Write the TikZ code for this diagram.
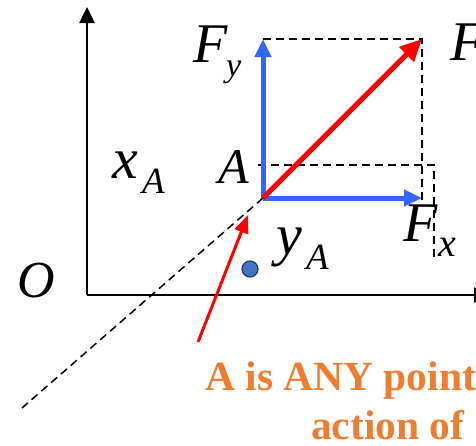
\documentclass[tikz,border=0pt]{standalone}
\usepackage{fontspec}
\setmainfont{Liberation Serif}
\usetikzlibrary{arrows.meta}
\definecolor{vblue}{RGB}{51,102,255}
\definecolor{orng}{RGB}{237,125,49}
\definecolor{dotfill}{RGB}{68,114,196}
\definecolor{dotline}{RGB}{31,56,100}
\begin{document}
\begin{tikzpicture}[x=1pt,y=-1pt,
  axis/.style={line width=2.5pt,-{Triangle[length=16pt,width=15pt]}},
  guide/.style={line width=1.5pt,dash pattern=on 8pt off 5pt},
  comp/.style={vblue,line width=5pt,-{Triangle[length=18pt,width=16pt]}},
  force/.style={red,line width=5pt,-{Triangle[length=22pt,width=20pt]}},
  pointer/.style={red,line width=3pt,-{Triangle[length=18pt,width=14pt]}},
  lbl/.style={inner sep=0pt,anchor=base west,font=\fontsize{#1}{#1}\selectfont\itshape},
  note/.style={inner sep=0pt,anchor=base west,text=orng,font=\fontsize{41.5}{44}\selectfont\bfseries}]
\useasboundingbox (0,0) rectangle (476,445);
\clip (0,0) rectangle (476,445);
% key points
\coordinate (O) at (87,295);
\coordinate (Ytop) at (87,7);
\coordinate (Xend) at (490,295);
\coordinate (A) at (263,198);
\coordinate (Ftip) at (422,39);
\coordinate (Fytip) at (263,39);
\coordinate (Fxtip) at (422,198);
\coordinate (Rb) at (422,206);
\coordinate (Gl) at (258,165);
\coordinate (Gr) at (434,165);
\coordinate (Gb) at (434,260);
\coordinate (Dend) at (22,408);
\coordinate (Ptail) at (198,342);
\coordinate (Ptip) at (248,215);
% axes
\draw[axis] (O) -- (Ytop);
\draw[axis] (O) -- (Xend);
% guides
\draw[guide] (Fytip) -- (Ftip) -- (Rb);
\draw[guide] (Gl) -- (Gr) -- (Gb);
\draw[guide] (A) -- (Dend);
% components
\draw[comp] (A) -- (Fytip);
\draw[comp] (A) -- (Fxtip);
% force
\draw[force] (A) -- (Ftip);
% pointer
\draw[pointer] (Ptail) -- (Ptip);
% dot
\node[circle,fill=dotfill,draw=dotline,line width=1.2pt,minimum size=16pt,inner sep=0pt] (dot) at (250,269) {};
% labels
\node[lbl=56] (lFy) at (193,62) {F};
\node[lbl=34] (lFysub) at (226,76) {y};
\node[lbl=56] (lF) at (450,60) {F};
\node[lbl=58] (lxA) at (112,178) {x};
\node[lbl=37] (lxAsub) at (142,193) {A};
\node[lbl=50] (lA) at (218,183) {A};
\node[lbl=56] (lFx) at (403,241) {F};
\node[lbl=40] (lFxsub) at (438,256) {x};
\node[lbl=58] (lyA) at (276,254) {y};
\node[lbl=37] (lyAsub) at (306,269) {A};
\node[lbl=52] (lO) at (17,297) {O};
\node[note] (n1) at (205,390) {A is ANY point};
\node[note] (n2) at (311,439) {action of};
\end{tikzpicture}
\end{document}
